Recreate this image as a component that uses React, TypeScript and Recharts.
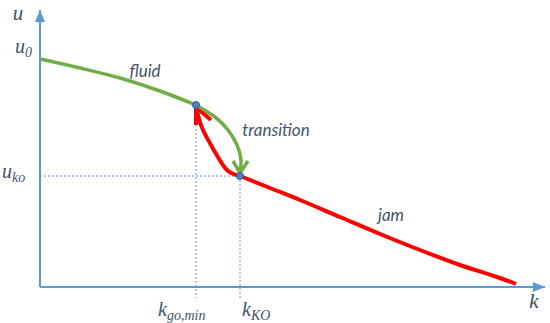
import React from 'react';
import { ComposedChart, Line, Scatter, XAxis, YAxis, ReferenceLine, ReferenceDot } from 'recharts';

const fluidCurve = [
  { x: 0, y: 228 }, { x: 40, y: 219 }, { x: 80, y: 209 }, { x: 120, y: 196 }, { x: 156, y: 182 },
];
const transitionDown = [
  { x: 156, y: 182 }, { x: 175, y: 170 }, { x: 188, y: 157 }, { x: 197, y: 142 }, { x: 201, y: 127 }, { x: 200, y: 115 },
];
const transitionDownHead = [{ x: 193, y: 126 }, { x: 200, y: 114 }, { x: 208, y: 126 }];
const transitionUp = [
  { x: 200, y: 111 }, { x: 187, y: 117 }, { x: 175, y: 135 }, { x: 163, y: 157 }, { x: 158, y: 172 }, { x: 156, y: 179 },
];
const transitionUpHead = [{ x: 156, y: 162 }, { x: 156, y: 180 }, { x: 171, y: 167 }];
const jamCurve = [
  { x: 200, y: 111 }, { x: 230, y: 99 }, { x: 260, y: 87 }, { x: 300, y: 70 }, { x: 340, y: 53 },
  { x: 380, y: 37 }, { x: 420, y: 22 }, { x: 460, y: 9 }, { x: 476, y: 3 },
];
const keyPoints = [{ x: 156, y: 182 }, { x: 200, y: 111 }];
const kGoMin = 156;
const kKO = 200;
const u0 = 228;
const uKO = 111;
const uMax = 277;
const kMax = 505;

const TEXT = '#44546A';
const AXIS = '#5B9BD5';
const GREEN = '#70AD47';
const RED = '#FF0000';
const MATH = '"Liberation Serif", serif';
const SANS = 'Lato, "Open Sans", sans-serif';

const XTick = (props: any) => {
  const { x, payload } = props;
  if (payload.value === kGoMin) {
    return (
      <text x={x - 38} y={316} fill={TEXT} fontFamily={MATH} fontStyle="italic" fontSize={20}>
        k<tspan fontSize={14} dy={4}>go,min</tspan>
      </text>
    );
  }
  return (
    <text x={x + 2} y={316} fill={TEXT} fontFamily={MATH} fontStyle="italic" fontSize={20}>
      k<tspan fontSize={14} dy={4}>KO</tspan>
    </text>
  );
};

const YTick = (props: any) => {
  const { y, payload } = props;
  if (payload.value === u0) {
    return (
      <text x={15} y={y - 6} fill={TEXT} fontFamily={MATH} fontStyle="italic" fontSize={20}>
        u<tspan fontSize={14} dy={4}>0</tspan>
      </text>
    );
  }
  return (
    <text x={2} y={y + 2} fill={TEXT} fontFamily={MATH} fontStyle="italic" fontSize={20}>
      u<tspan fontSize={14} dy={4}>ko</tspan>
    </text>
  );
};

const Txt = (txt: string, fam: string, size: number) => (p: any) => (
  <text x={p.cx} y={p.cy} textAnchor="middle" dominantBaseline="central" fill={TEXT}
    fontFamily={fam} fontStyle="italic" fontSize={size}>{txt}</text>
);

const UpArrow = (p: any) => (
  <polygon points={`${p.cx},${p.cy} ${p.cx - 5},${p.cy + 12} ${p.cx + 5},${p.cy + 12}`} fill={AXIS} />
);
const RightArrow = (p: any) => (
  <polygon points={`${p.cx},${p.cy} ${p.cx - 12},${p.cy - 5} ${p.cx - 12},${p.cy + 5}`} fill={AXIS} />
);

const Dot = (p: any) => <circle cx={p.cx} cy={p.cy} r={3.5} fill="#4F81BD" stroke="#2F5F9A" strokeWidth={1} />;

export default function App() {
  return (
    <div style={{ position: 'absolute', left: 0, top: 0, background: '#fff' }}>
      <ComposedChart width={550} height={323} margin={{ top: 10, right: 5, bottom: 0, left: 0 }}>
        <XAxis type="number" dataKey="x" domain={[0, kMax]} ticks={[kGoMin, kKO]} tick={<XTick />}
          tickLine={false} axisLine={{ stroke: AXIS, strokeWidth: 2 }} height={36} allowDataOverflow />
        <YAxis type="number" dataKey="y" domain={[0, uMax]} ticks={[u0, uKO]} tick={<YTick />}
          tickLine={false} axisLine={{ stroke: AXIS, strokeWidth: 2 }} width={40} allowDataOverflow />
        <ReferenceLine segment={[{ x: 0, y: uKO }, { x: kKO, y: uKO }]} stroke={AXIS} strokeWidth={1} strokeDasharray="2 2" ifOverflow="visible" />
        <ReferenceLine segment={[{ x: kGoMin, y: 182 }, { x: kGoMin, y: -11 }]} stroke={AXIS} strokeWidth={1} strokeDasharray="2 2" ifOverflow="visible" />
        <ReferenceLine segment={[{ x: kKO, y: uKO }, { x: kKO, y: -11 }]} stroke={AXIS} strokeWidth={1} strokeDasharray="2 2" ifOverflow="visible" />
        <Line data={fluidCurve} dataKey="y" type="monotone" stroke={GREEN} strokeWidth={3.5} dot={false} isAnimationActive={false} />
        <Line data={jamCurve} dataKey="y" type="monotone" stroke={RED} strokeWidth={4} dot={false} isAnimationActive={false} />
        <Line data={transitionUp} dataKey="y" type="natural" stroke={RED} strokeWidth={4} dot={false} isAnimationActive={false} />
        <Line data={transitionUpHead} dataKey="y" type="linear" stroke={RED} strokeWidth={4} dot={false} isAnimationActive={false} />
        <Line data={transitionDown} dataKey="y" type="natural" stroke={GREEN} strokeWidth={3.5} dot={false} isAnimationActive={false} />
        <Line data={transitionDownHead} dataKey="y" type="linear" stroke={GREEN} strokeWidth={3.5} dot={false} isAnimationActive={false} />
        <Scatter data={keyPoints} dataKey="y" shape={<Dot />} isAnimationActive={false} />
        <ReferenceDot x={0} y={uMax} r={0} shape={UpArrow} ifOverflow="visible" />
        <ReferenceDot x={kMax} y={0} r={0} shape={RightArrow} ifOverflow="visible" />
        <ReferenceDot x={-22} y={uMax - 3} r={0} shape={Txt('u', MATH, 21)} ifOverflow="visible" />
        <ReferenceDot x={494} y={-13} r={0} shape={Txt('k', MATH, 22)} ifOverflow="visible" />
        <ReferenceDot x={105} y={217} r={0} shape={Txt('fluid', SANS, 17)} ifOverflow="visible" />
        <ReferenceDot x={236} y={158} r={0} shape={Txt('transition', SANS, 17)} ifOverflow="visible" />
        <ReferenceDot x={351} y={73} r={0} shape={Txt('jam', SANS, 17)} ifOverflow="visible" />
      </ComposedChart>
    </div>
  );
}
